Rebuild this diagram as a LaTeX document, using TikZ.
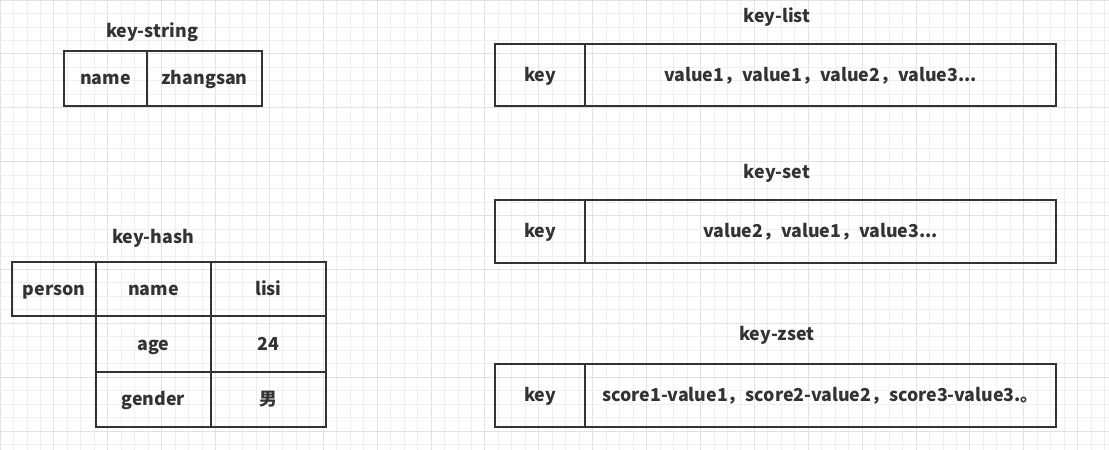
\documentclass[tikz,border=0pt]{standalone}
\usepackage{fontspec}
\setmainfont{Noto Sans CJK SC}
\definecolor{ink}{HTML}{333333}
\definecolor{gridminor}{HTML}{EFEFEF}
\definecolor{gridmajor}{HTML}{E2E2E2}
\begin{document}
\begin{tikzpicture}[x=1pt,y=-1pt,
  txt/.style={text=ink, font=\fontsize{17.8}{20}\selectfont\bfseries, text height=1.29em, text depth=0.05em},
  cell/.style={txt, draw=ink, line width=1.6pt, rectangle, inner sep=0pt, outer sep=0pt,
    anchor=north west},
  title/.style={txt, inner sep=0pt},
  gminor/.style={gridminor, line width=0.8pt},
  gmajor/.style={gridmajor, line width=0.9pt}]
\useasboundingbox (0,0) rectangle (1109,450);
\fill[white] (0,0) rectangle (1109,450);
% grid
\foreach \i in {0,...,82} {
  \pgfmathtruncatemacro{\m}{mod(\i,4)}
  \ifnum\m=0 \draw[gmajor] (\i*13.47,0) -- (\i*13.47,450);
  \else \draw[gminor] (\i*13.47,0) -- (\i*13.47,450); \fi
}
\foreach \j in {0,...,33} {
  \pgfmathtruncatemacro{\m}{mod(\j,4)}
  \ifnum\m=0 \draw[gmajor] (0,\j*13.47) -- (1109,\j*13.47);
  \else \draw[gminor] (0,\j*13.47) -- (1109,\j*13.47); \fi
}
% key-string
\node[title] (tstr) at (152,31) {key-string};
\node[cell, minimum width=83pt, minimum height=55pt] (sk) at (64,51) {name};
\node[cell, minimum width=115pt, minimum height=55pt] (sv) at (147,51) {zhangsan};
% key-list
\node[title] (tlist) at (777,16) {key-list};
\node[cell, minimum width=90pt, minimum height=62pt] (lk) at (495,44) {key};
\node[cell, minimum width=471pt, minimum height=62pt] (lv) at (585,44) {value1，value1，value2，value3...};
% key-set
\node[title] (tset) at (777,172) {key-set};
\node[cell, minimum width=90pt, minimum height=63pt] (ek) at (495,200) {key};
\node[cell, minimum width=471pt, minimum height=63pt] (ev) at (585,200) {value2，value1，value3...};
% key-zset
\node[title] (tzset) at (777,334) {key-zset};
\node[cell, minimum width=90pt, minimum height=63pt] (zk) at (495,364) {key};
\node[cell, minimum width=471pt, minimum height=63pt] (zv) at (585,364) {score1-value1，score2-value2，score3-value3.。};
% key-hash
\node[title] (thash) at (153,237) {key-hash};
\node[cell, minimum width=84pt, minimum height=54pt] (hk) at (12,262) {person};
\node[cell, minimum width=115pt, minimum height=54pt] (f1) at (96,262) {name};
\node[cell, minimum width=115pt, minimum height=54pt] (v1) at (211,262) {lisi};
\node[cell, minimum width=115pt, minimum height=56pt] (f2) at (96,316) {age};
\node[cell, minimum width=115pt, minimum height=56pt] (v2) at (211,316) {24};
\node[cell, minimum width=115pt, minimum height=55pt] (f3) at (96,372) {gender};
\node[cell, minimum width=115pt, minimum height=55pt] (v3) at (211,372) {男};
\end{tikzpicture}
\end{document}
